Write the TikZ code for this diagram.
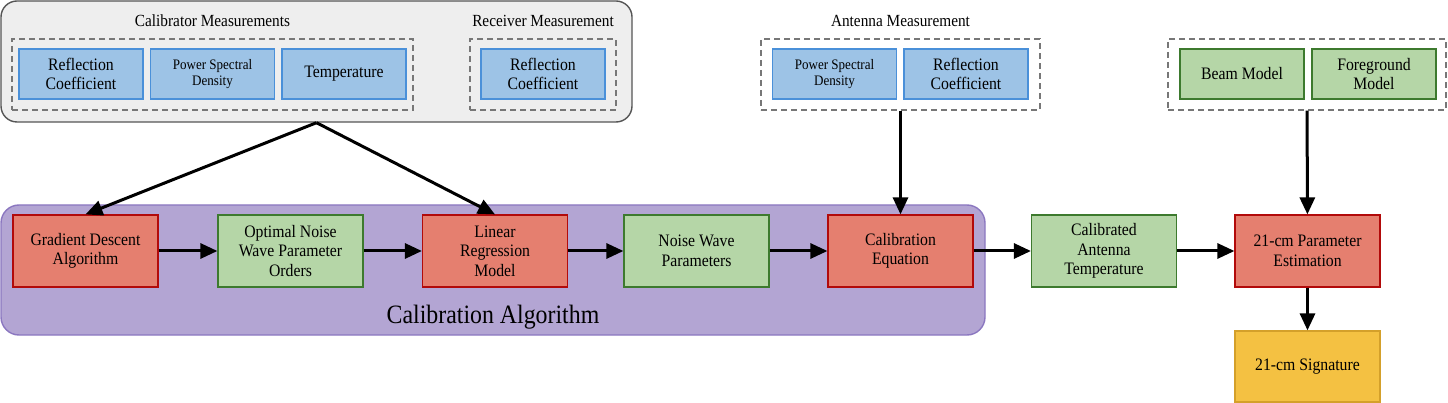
\documentclass[tikz,border=0pt]{standalone}
\usepackage{fontspec}
\setmainfont[FakeStretch=0.9]{Liberation Serif}
\usetikzlibrary{arrows.meta}

\definecolor{measfill}{HTML}{9DC3E6}
\definecolor{measdraw}{HTML}{4A90D9}
\definecolor{algofill}{HTML}{E57F6F}
\definecolor{algodraw}{HTML}{B20A0A}
\definecolor{datafill}{HTML}{B5D6A7}
\definecolor{datadraw}{HTML}{3D7A2E}
\definecolor{sigfill}{HTML}{F4C142}
\definecolor{sigdraw}{HTML}{D4A02A}
\definecolor{groupfill}{HTML}{B3A5D3}
\definecolor{groupdraw}{HTML}{8B77C0}
\definecolor{panelfill}{HTML}{EEEEEE}
\definecolor{paneldraw}{HTML}{555555}

\begin{document}
\begin{tikzpicture}[x=1pt,y=-1pt,
    box/.style={rectangle, draw, line width=1.2pt, align=center, inner sep=0pt,
      minimum width=145pt, minimum height=72pt,
      font=\fontsize{17.5}{19.5}\selectfont},
    small/.style={rectangle, draw, line width=1.2pt, align=center, inner sep=0pt,
      minimum width=124pt, minimum height=50pt,
      font=\fontsize{17.5}{19.5}\selectfont},
    frame/.style={rectangle, draw=paneldraw!80, line width=1.4pt,
      dash pattern=on 6pt off 4pt, inner sep=0pt, minimum height=71pt},
    heading/.style={font=\fontsize{17}{19}\selectfont}]

        \useasboundingbox (0,0) rectangle (1448,403);

        % panels behind the boxes
        \node[rectangle, rounded corners=16pt, draw=paneldraw, fill=panelfill,
          line width=1.4pt, minimum width=631pt, minimum height=121pt] (0) at (316.5,61.5) {};
        \node[rectangle, rounded corners=18pt, draw=groupdraw, fill=groupfill,
          line width=1.4pt, minimum width=984pt, minimum height=130pt] (00) at (493,270) {};
        \node[font=\fontsize{26.5}{29}\selectfont] (000) at (493,317) {Calibration Algorithm};

        \begin{scope}[every node/.style={heading}]
          \node (h1) at (212.5,21) {Calibrator Measurements};
          \node (h2) at (543,21)   {Receiver Measurement};
          \node (h3) at (900.5,21) {Antenna Measurement};
        \end{scope}

        \begin{scope}[every node/.style={frame}]
          \node[minimum width=401pt] (f1) at (212.5,74.5)  {};
          \node[minimum width=146pt] (f2) at (543,74.5)    {};
          \node[minimum width=279pt] (f3) at (900.5,74.5)  {};
          \node[minimum width=278pt] (f4) at (1307,74.5)   {};
        \end{scope}

        \begin{scope}[every node/.style={small, draw=measdraw, fill=measfill}]
          \node (m1) at (81,74)    {Reflection\\Coefficient};
          \node[font=\fontsize{14.5}{16.7}\selectfont] (m2) at (212.5,74) {Power Spectral\\Density};
          \node (m3) at (344,74)   {Temperature};
          \node (m4) at (543,74)   {Reflection\\Coefficient};
          \node[font=\fontsize{14.5}{16.7}\selectfont] (m5) at (834.5,74) {Power Spectral\\Density};
          \node (m6) at (966,74)   {Reflection\\Coefficient};
        \end{scope}

        \begin{scope}[every node/.style={small, draw=datadraw, fill=datafill}]
          \node (m7) at (1242,74)  {Beam Model};
          \node (m8) at (1374,74)  {Foreground\\Model};
        \end{scope}

        \begin{scope}[every node/.style={box}]
          \node[draw=algodraw, fill=algofill] (1) at (85.5,251)   {Gradient Descent\\Algorithm};
          \node[draw=datadraw, fill=datafill] (2) at (290.5,251)  {Optimal Noise\\Wave Parameter\\Orders};
          \node[draw=algodraw, fill=algofill] (3) at (495,251)    {Linear\\Regression\\Model};
          \node[draw=datadraw, fill=datafill] (4) at (696.5,251)  {Noise Wave\\Parameters};
          \node[draw=algodraw, fill=algofill] (5) at (900.5,251)  {Calibration\\Equation};
          \node[draw=datadraw, fill=datafill] (6) at (1104,251)   {Calibrated\\Antenna\\Temperature};
          \node[draw=algodraw, fill=algofill] (7) at (1307.5,251) {21-cm Parameter\\Estimation};
          \node[draw=sigdraw, fill=sigfill, minimum height=71pt] (8) at (1307.5,366.5) {21-cm Signature};
        \end{scope}

        \begin{scope}[every edge/.style={draw, line width=3pt,
            -{Triangle[length=17pt,width=15pt]}}]
          \path (0.south) edge (1.north);
          \path (0.south) edge (3.north);
          \path (1)  edge (2);
          \path (2)  edge (3);
          \path (3)  edge (4);
          \path (4)  edge (5);
          \path (5)  edge (6);
          \path (6)  edge (7);
          \path (f3) edge (5);
          \path (f4) edge (7);
          \path (7)  edge (8);
        \end{scope}

      \end{tikzpicture}
\end{document}
